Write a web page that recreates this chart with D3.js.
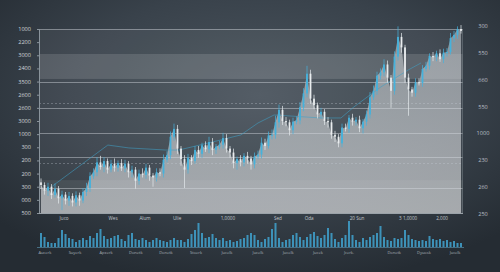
<!DOCTYPE html>
<html>
<head>
<meta charset="utf-8">
<script src="https://cdn.jsdelivr.net/npm/d3@7"></script>
<style>
  html, body { margin: 0; padding: 0; background: #2a3139; overflow: hidden; }
  svg { display: block; font-family: "Open Sans", "DejaVu Sans", sans-serif; }
</style>
</head>
<body>
<svg id="chart" width="500" height="272"></svg>
<script>
// closing values, in left-axis steps (0 = bottom row, 14 = top row)
const closes = [
    2.13, 1.70, 2.00, 1.37, 1.85, 1.12, 1.40, 0.95, 1.30, 0.80,
    1.35, 0.95, 1.60, 1.90, 2.80, 3.10, 3.85, 3.50, 3.95, 3.30,
    3.75, 3.45, 3.80, 3.40, 3.75, 3.10, 3.30, 2.45, 3.00, 2.90,
    3.45, 2.85, 2.70, 3.10, 3.00, 4.05, 4.40, 5.80, 6.40, 4.90,
    4.10, 3.30, 4.20, 3.95, 4.80, 4.50, 5.15, 4.85, 5.40, 4.80,
    5.05, 5.20, 5.70, 4.90, 4.60, 3.80, 4.10, 3.85, 4.35, 4.15,
    3.70, 4.30, 4.45, 5.35, 5.10, 5.90, 5.95, 6.90, 7.85, 7.00,
    6.90, 6.30, 6.95, 7.05, 8.05, 9.10, 10.60, 8.70, 8.20, 7.50,
    7.70, 7.00, 6.90, 5.95, 5.80, 5.30, 6.50, 6.40, 7.25, 6.95,
    7.10, 6.45, 6.95, 7.50, 8.80, 9.30, 10.45, 10.70, 11.30, 10.30,
    9.30, 11.90, 13.40, 12.60, 10.30, 9.40, 9.15, 9.95, 9.90, 10.95,
    11.20, 11.95, 11.85, 12.15, 11.70, 12.20, 12.25, 13.30, 13.55, 14.00,
    13.85
];
// wick lengths above / below the body, in tenths of a step
const upperWicks = [
    3, 2, 3, 2, 4, 2, 3, 2, 3, 2,  3, 2, 3, 4, 3, 3, 4, 5, 3, 2,
    3, 4, 2, 3, 3, 2, 3, 2, 3, 4,  3, 2, 2, 3, 3, 4, 3, 4, 4, 3,
    2, 3, 3, 2, 3, 3, 2, 3, 4, 3,  2, 3, 4, 3, 2, 3, 2, 3, 2, 3,
    2, 3, 3, 4, 3, 3, 4, 5, 4, 3,  3, 2, 3, 3, 4, 4, 6, 3, 3, 2,
    3, 2, 3, 2, 3, 2, 3, 3, 2, 3,  2, 3, 2, 3, 4, 4, 3, 3, 4, 3,
    2, 4, 8, 3, 2, 3, 2, 3, 3, 3,  3, 2, 3, 2, 3, 3, 3, 4, 3, 2,
    3
];
const lowerWicks = [
    3, 3, 4, 3, 2, 4, 9, 3, 4, 3,  3, 4, 2, 3, 3, 2, 3, 2, 4, 3,
    2, 3, 3, 2, 3, 4, 4, 6, 3, 2,  3, 4, 7, 3, 2, 3, 2, 3, 3, 4,
    5, 14, 3, 3, 2, 3, 3, 2, 3, 4, 3, 2, 3, 3, 4, 4, 5, 3, 3, 4,
    4, 3, 2, 3, 3, 2, 3, 3, 4, 3,  3, 4, 3, 2, 3, 3, 3, 4, 3, 3,
    3, 3, 4, 3, 4, 3, 3, 2, 3, 3,  3, 3, 4, 3, 3, 2, 3, 3, 3, 4,
    13, 3, 3, 4, 4, 20, 3, 3, 2, 3, 2, 3, 3, 3, 2, 3, 3, 2, 3, 3,
    2
];
const volumes = [
    14, 10, 5, 4, 4, 9, 17, 13, 9, 8,   5, 7, 9, 7, 11, 9, 14, 18, 11, 8,
    9, 11, 12, 8, 6, 12, 14, 8, 7, 9,   7, 5, 7, 9, 7, 6, 5, 7, 9, 7,
    7, 5, 8, 13, 17, 24, 14, 9, 10, 13, 9, 7, 9, 6, 7, 5, 6, 8, 9, 12,
    14, 12, 7, 5, 8, 10, 18, 24, 9, 5,  7, 8, 12, 14, 10, 7, 10, 13, 15, 11,
    9, 12, 19, 14, 8, 5, 9, 12, 26, 12, 7, 5, 9, 7, 10, 12, 14, 21, 10, 7,
    6, 9, 8, 9, 17, 12, 8, 7, 6, 7,     6, 11, 8, 7, 8, 6, 7, 5, 6, 4,
    4
];
// slow average line: [candle index, value]
const averageLine = [
    [2.9, 1.98], [19.1, 5.17], [25.1, 4.95], [35.7, 4.79], [39.4, 4.79],
    [51.4, 5.56], [57.1, 5.94], [62, 6.85], [66.6, 7.46], [80, 7.23],
    [85.7, 7.23], [89.4, 8.07], [97.1, 9.59], [104.9, 10.88], [108.6, 11.42]
];

const leftLabels = ["500", "000", "300", "200", "200", "300", "1000", "3000",
    "2600", "2600", "3500", "2400", "3000", "2200", "1000"];
const rightLabels = ["250", "260", "230", "1000", "550", "660", "550", "300"];
const dateLabels = ["Juco", "Wes", "Alum", "Ulie", "1,0000", "Sed", "Oda", "20 Sun", "3 1,0000", "2,000"];
const dateAt = [6.6, 20.6, 29.7, 38.9, 53.4, 67.7, 76.6, 90.3, 104.9, 114.6];
const volumeLabels = ["Aucerk", "Suyerk", "Apxerk", "Donetk", "Donetk", "Stoerk", "Jucelk",
    "Jucelk", "Jucelk", "Jucek", "Jcerk.", "Donetk", "Dyuosk", "Jucelk"];
const volumeLabelAt = [1.1, 9.7, 18.6, 27.1, 35.7, 44.3, 53.1, 62, 70.6, 79.1, 88, 100.9, 109.4, 118.3];

const bandRanges = [[10.2, 12.1], [0, 2.5]];
const solidLines = [14, 10, 8, 6.1, 4.26, 1.9];
const dashedLines = [8.4, 3.8];

const svg = d3.select('#chart');
const defs = svg.append('defs');

const bg = defs.append('radialGradient').attr('id', 'bg')
    .attr('cx', '52%').attr('cy', '35%').attr('r', '70%');
bg.append('stop').attr('offset', '0%').attr('stop-color', '#4b555e');
bg.append('stop').attr('offset', '55%').attr('stop-color', '#39424b');
bg.append('stop').attr('offset', '100%').attr('stop-color', '#252c33');

const areaGrad = defs.append('linearGradient').attr('id', 'areaFill')
    .attr('x1', 0).attr('y1', 0).attr('x2', 0).attr('y2', 1);
areaGrad.append('stop').attr('offset', '0%').attr('stop-color', '#c9ced2').attr('stop-opacity', 0.55);
areaGrad.append('stop').attr('offset', '100%').attr('stop-color', '#d8dadc').attr('stop-opacity', 0.66);

svg.append('rect').attr('width', 500).attr('height', 272).attr('fill', 'url(#bg)');

const plotL = 39, plotR = 463, plotT = 29, plotB = 213;
const x = d3.scaleLinear().domain([0, closes.length - 1]).range([41, 461]);
const y = d3.scaleLinear().domain([0, 14]).range([plotB, plotT]);
const vy = d3.scaleLinear().domain([0, 26]).range([247, 221]);

// plot panel
svg.append('rect').attr('x', plotL).attr('y', plotT)
    .attr('width', plotR - plotL).attr('height', plotB - plotT)
    .attr('fill', '#ffffff').attr('fill-opacity', 0.05);

svg.append('g').selectAll('rect').data(bandRanges).join('rect')
    .attr('x', plotL).attr('width', plotR - plotL)
    .attr('y', d => y(d[1])).attr('height', d => y(d[0]) - y(d[1]))
    .attr('fill', '#ffffff').attr('fill-opacity', (d, i) => i === 0 ? 0.13 : 0.07);

// area under price
const area = d3.area()
    .x((d, i) => x(i))
    .y0(y(0))
    .y1(d => y(d));
svg.append('path').datum(closes).attr('d', area).attr('fill', 'url(#areaFill)');

// grid lines
svg.append('g').selectAll('line').data(solidLines).join('line')
    .attr('x1', plotL).attr('x2', plotR)
    .attr('y1', d => Math.round(y(d)) + 0.5).attr('y2', d => Math.round(y(d)) + 0.5)
    .attr('stroke', '#d5dadf').attr('stroke-opacity', 0.45).attr('stroke-width', 1);
svg.append('g').selectAll('line').data(dashedLines).join('line')
    .attr('x1', plotL).attr('x2', plotR)
    .attr('y1', d => Math.round(y(d)) + 0.5).attr('y2', d => Math.round(y(d)) + 0.5)
    .attr('stroke', '#c8d0d8').attr('stroke-opacity', 0.4)
    .attr('stroke-width', 0.8).attr('stroke-dasharray', '2,2');

// plot frame: left axis + bottom
svg.append('line').attr('x1', plotL + 0.5).attr('x2', plotL + 0.5)
    .attr('y1', plotT).attr('y2', plotB).attr('stroke', '#8a949c').attr('stroke-width', 1);
svg.append('line').attr('x1', plotL).attr('x2', plotR)
    .attr('y1', plotB + 0.5).attr('y2', plotB + 0.5).attr('stroke', '#9aa2a8').attr('stroke-width', 1);
svg.append('line').attr('x1', plotR - 0.5).attr('x2', plotR - 0.5)
    .attr('y1', plotT).attr('y2', plotB).attr('stroke', '#6c757c').attr('stroke-width', 0.6);

// moving average
svg.append('path').datum(averageLine)
    .attr('d', d3.line().x(d => x(d[0])).y(d => y(d[1])))
    .attr('fill', 'none').attr('stroke', '#3f9fc6').attr('stroke-opacity', 0.7).attr('stroke-width', 0.8);

// candles
const candles = closes.map((c, i) => {
    const o = i > 0 ? closes[i - 1] : c + 0.2;
    return {
        i, o, c,
        h: Math.max(o, c) + upperWicks[i] / 10,
        l: Math.min(o, c) - lowerWicks[i] / 10,
        up: c >= o
    };
});
const cg = svg.append('g');
cg.selectAll('line').data(candles).join('line')
    .attr('x1', d => x(d.i)).attr('x2', d => x(d.i))
    .attr('y1', d => y(d.h)).attr('y2', d => y(d.l))
    .attr('stroke', d => d.up ? '#45b2dc' : '#e4e9ec').attr('stroke-width', 0.7);
cg.selectAll('rect').data(candles).join('rect')
    .attr('x', d => x(d.i) - 0.9).attr('width', 1.8)
    .attr('y', d => y(Math.max(d.o, d.c)))
    .attr('height', d => Math.max(1, Math.abs(y(d.o) - y(d.c))))
    .attr('fill', d => d.up ? '#45b2dc' : '#e8ecee');

// left axis ticks & labels
const lt = svg.append('g');
lt.selectAll('line').data(leftLabels).join('line')
    .attr('x1', plotL - 2).attr('x2', plotL)
    .attr('y1', (d, i) => y(i) + 0.5).attr('y2', (d, i) => y(i) + 0.5)
    .attr('stroke', '#8a949c');
lt.selectAll('text').data(leftLabels).join('text')
    .attr('x', 31).attr('y', (d, i) => y(i)).attr('dy', '0.35em')
    .attr('text-anchor', 'end').attr('font-size', 5.6).attr('fill', '#cfd4d8')
    .text(d => d);

// right labels
const ry = d3.scaleLinear().domain([0, rightLabels.length - 1]).range([214, 26]);
svg.append('g').selectAll('text').data(rightLabels).join('text')
    .attr('x', 483).attr('y', (d, i) => ry(i)).attr('dy', '0.35em')
    .attr('text-anchor', 'middle').attr('font-size', 5.6).attr('fill', '#b8bfc5')
    .text(d => d);

// date labels under plot
svg.append('g').selectAll('text').data(dateLabels).join('text')
    .attr('x', (d, i) => x(dateAt[i])).attr('y', 218.5).attr('dy', '0.35em')
    .attr('text-anchor', 'middle').attr('font-size', 4.6).attr('fill', '#c3c9ce')
    .text(d => d);

// volume bars
svg.append('g').selectAll('rect').data(volumes).join('rect')
    .attr('x', (d, i) => x(i) - 1).attr('width', 2)
    .attr('y', d => vy(d)).attr('height', d => vy(0) - vy(d))
    .attr('fill', '#3f9cc6').attr('fill-opacity', 0.9);
svg.append('line').attr('x1', 37).attr('x2', 464)
    .attr('y1', vy(0) + 0.5).attr('y2', vy(0) + 0.5)
    .attr('stroke', '#4f7f98').attr('stroke-width', 0.8);

svg.append('g').selectAll('text').data(volumeLabels).join('text')
    .attr('x', (d, i) => x(volumeLabelAt[i])).attr('y', 252.5).attr('dy', '0.35em')
    .attr('text-anchor', 'middle').attr('font-size', 4).attr('fill', '#aab2b8')
    .text(d => d);
</script>
</body>
</html>
